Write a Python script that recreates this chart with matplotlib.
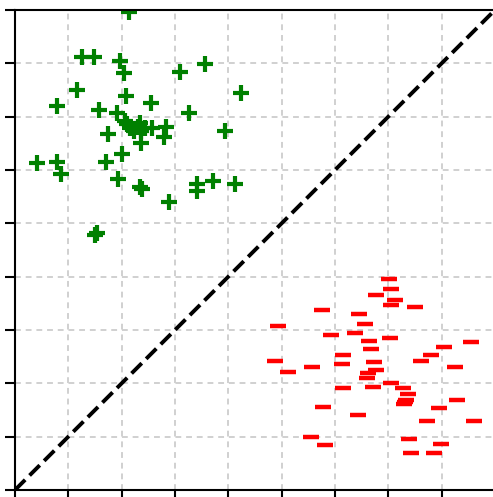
import matplotlib
matplotlib.use("Agg")
import matplotlib.pyplot as plt

# group A (green plus markers)
green_x = [2.14, 1.26, 1.48, 1.97, 2.04, 3.56, 3.09, 1.16, 2.08, 4.24,
           0.79, 1.58, 2.55, 1.91, 3.26, 2.06, 2.10, 2.16, 2.23, 2.31,
           2.36, 2.44, 2.34, 2.57, 2.83, 2.79, 2.36, 1.74, 3.94, 2.01,
           1.71, 0.41, 0.79, 0.86, 1.93, 2.34, 2.38, 3.41, 3.41, 3.71,
           4.13, 2.89, 1.54, 1.50]
green_y = [8.96, 8.12, 8.12, 8.04, 7.82, 7.99, 7.84, 7.50, 7.39, 7.44,
           7.20, 7.13, 7.26, 7.07, 7.07, 6.92, 6.86, 6.79, 6.73, 6.81,
           6.73, 6.79, 6.88, 6.79, 6.81, 6.62, 6.51, 6.68, 6.73, 6.30,
           6.15, 6.13, 6.15, 5.93, 5.83, 5.68, 5.64, 5.74, 5.61, 5.79,
           5.74, 5.40, 4.82, 4.78]

# group B (red bar markers)
red_x = [7.01, 7.05, 6.77, 7.13, 7.05, 7.50, 5.76, 6.45, 6.56, 4.93,
         5.93, 6.38, 7.03, 6.64, 8.55, 8.04, 6.68, 7.80, 6.15, 4.88,
         6.73, 7.61, 6.13, 5.57, 8.25, 5.12, 6.77, 6.62, 6.60, 7.05,
         6.15, 6.71, 7.28, 7.37, 7.33, 7.31, 7.29, 8.29, 7.95, 5.78,
         6.43, 7.73, 8.61, 5.55, 7.39, 7.99, 5.81, 7.43, 7.86]
red_y = [3.96, 3.77, 3.66, 3.56, 3.47, 3.43, 3.38, 3.30, 3.11, 3.08,
         2.91, 2.94, 2.85, 2.79, 2.78, 2.68, 2.64, 2.53, 2.53, 2.42,
         2.40, 2.42, 2.36, 2.31, 2.31, 2.21, 2.25, 2.19, 2.10, 2.01,
         1.91, 1.93, 1.91, 1.80, 1.69, 1.65, 1.61, 1.69, 1.54, 1.56,
         1.41, 1.29, 1.29, 0.99, 0.96, 0.86, 0.84, 0.69, 0.69]

lims = [0, 9]

fig = plt.figure(figsize=(4.93, 4.97), dpi=100)
ax = fig.add_axes([0.0304, 0.0141, 0.9736, 0.9658])

ax.grid(True, color="#d0d0d0", linestyle=(0, (3, 2.5)), linewidth=1.4)
ax.set_axisbelow(True)

ax.plot(green_x, green_y, "+", color="green", ms=11.5, mew=3, linestyle="none")
ax.plot(red_x, red_y, "_", color="red", ms=11.5, mew=3.2, linestyle="none")
ax.plot(lims, lims, color="black", linestyle="--", linewidth=2.8)

ax.set_xlim(lims)
ax.set_ylim(lims)
ax.set_xticks(range(0, 10))
ax.set_yticks(range(0, 10))
ax.set_xticklabels([])
ax.set_yticklabels([])
ax.tick_params(direction="out", length=7, width=1.5)
for s in ax.spines.values():
    s.set_linewidth(1.5)

fig.savefig("out.png", dpi=100)
